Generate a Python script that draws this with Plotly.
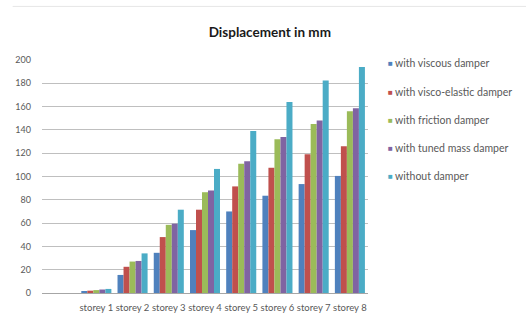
import plotly.graph_objects as go

# Storey categories (first slot is the ground level, left unlabeled)
storeys = ["", "storey 1", "storey 2", "storey 3", "storey 4",
           "storey 5", "storey 6", "storey 7", "storey 8"]

# Displacement (mm) per storey for each damper configuration
viscous = [0, 1.5, 15.5, 34.5, 54, 70, 83.5, 93.5, 100.5]
visco_elastic = [0, 2, 22.5, 48, 71.5, 91.5, 107.5, 119, 126]
friction = [0, 2.5, 27, 58.5, 86.5, 111, 132, 145, 156]
tuned_mass = [0, 3, 27.5, 59.5, 88, 113, 134, 148, 158.5]
without = [0, 3.5, 34, 71.5, 106.5, 139, 164, 182.5, 194]

series_names = ["with viscous damper", "with visco-elastic damper",
                "with friction damper", "with tuned mass damper",
                "without damper"]
series_values = [viscous, visco_elastic, friction, tuned_mass, without]
series_colors = ["#4F81BD", "#C0504D", "#9BBB59", "#8064A2", "#4BACC6"]

x_idx = list(range(len(storeys)))
font_family = "Lato, 'Open Sans', sans-serif"

fig = go.Figure()
for name, vals, color in zip(series_names, series_values, series_colors):
    fig.add_trace(go.Bar(
        x=x_idx, y=vals, name=name,
        marker=dict(color=color, line=dict(width=0)),
        showlegend=False,
    ))

# Compact legend: small colored square followed by the series name
legend_top = 0.985
legend_step = 0.121
annotations = []
for i, (name, color) in enumerate(zip(series_names, series_colors)):
    yy = legend_top - i * legend_step
    annotations.append(dict(
        xref="paper", yref="paper", x=1.056, y=yy,
        xanchor="left", yanchor="middle", showarrow=False,
        text="■", font=dict(family=font_family, size=8, color=color),
    ))
    annotations.append(dict(
        xref="paper", yref="paper", x=1.078, y=yy,
        xanchor="left", yanchor="middle", showarrow=False,
        text=name, font=dict(family=font_family, size=10.5, color="#595959"),
    ))

fig.update_layout(
    width=526, height=325,
    margin=dict(l=42, r=158, t=60, b=30),
    paper_bgcolor="white", plot_bgcolor="white",
    barmode="group", bargap=0.17, bargroupgap=0,
    font=dict(family=font_family, size=9, color="#595959"),
    title=dict(
        text="<b>Displacement in mm</b>",
        x=0.513, xanchor="center", y=0.9, yanchor="middle",
        font=dict(family=font_family, size=13.5, color="#1a1a1a"),
    ),
    showlegend=False,
    annotations=annotations,
    xaxis=dict(
        tickmode="array", tickvals=x_idx, ticktext=storeys,
        range=[-0.5, len(storeys) - 0.5],
        showgrid=False, showline=True, linecolor="#A6A6A6", linewidth=1,
        ticks="", ticklabelstandoff=6,
        tickfont=dict(size=9.5, color="#595959"),
        zeroline=False,
    ),
    yaxis=dict(
        range=[0, 200], dtick=20,
        showgrid=True, gridcolor="#BFBFBF", gridwidth=1,
        showline=False, zeroline=False,
        ticks="", ticklabelstandoff=10,
        tickfont=dict(size=9, color="#595959"),
    ),
    shapes=[dict(
        type="line", xref="paper", yref="paper",
        x0=-0.09, x1=1.5, y0=1.23, y1=1.23,
        line=dict(color="#E6E6E6", width=1),
    )],
)

fig.write_html("out.html")
